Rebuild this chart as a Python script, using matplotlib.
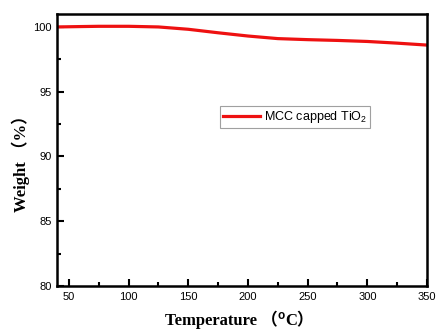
import numpy as np
import matplotlib
matplotlib.use("Agg")
import matplotlib.pyplot as plt
from matplotlib.ticker import MultipleLocator

# TGA curve
temperature = [40, 60, 75, 100, 125, 150, 175, 200, 225, 250, 275, 300, 325, 350]
weight = [100.0, 100.03, 100.05, 100.05, 100.0, 99.82, 99.55, 99.3, 99.1, 99.02, 98.96, 98.88, 98.75, 98.6]
series_label = "MCC capped TiO$_2$"

plt.rcParams['font.family'] = ['Liberation Sans', 'DejaVu Sans']
plt.rcParams['mathtext.fontset'] = 'custom'
plt.rcParams['mathtext.rm'] = 'Liberation Sans'

fig = plt.figure(figsize=(4.39, 3.31), dpi=100)
ax = fig.add_axes([57/439, 1 - 286/331, 370/439, 272/331])

ax.plot(temperature, weight, color='#ee1111', linewidth=2.3, label=series_label)

ax.set_xlim(40, 350)
ax.set_ylim(80, 101)
ax.xaxis.set_major_locator(MultipleLocator(50))
ax.xaxis.set_minor_locator(MultipleLocator(25))
ax.yaxis.set_major_locator(MultipleLocator(5))
ax.yaxis.set_minor_locator(MultipleLocator(2.5))
ax.tick_params(which='both', direction='in', labelsize=8, width=1.5, top=False, right=False)
ax.tick_params(which='major', length=5, pad=4)
ax.tick_params(which='minor', length=3)
for s in ax.spines.values():
    s.set_linewidth(1.8)

serif = ['Liberation Serif', 'Noto Sans CJK SC']
ax.set_ylabel('Weight （%）', fontsize=12, fontweight='bold', family=serif)
ax.yaxis.set_label_coords(-0.073, 0.465)

# x label in pieces: full-width brackets plus a raised "o"
big = dict(fontsize=12, fontweight='bold', family=serif, va='baseline', ha='left')
small = dict(fontsize=8.5, fontweight='bold', family=['Liberation Sans'], va='baseline', ha='left')
base_y = 6 / 331
pieces = [fig.text(0, base_y, 'Temperature （', **big),
          fig.text(0, base_y + 6 / 331, 'o', **small),
          fig.text(0, base_y, 'C）', **big)]
renderer = fig.canvas.get_renderer()
widths = [p.get_window_extent(renderer).width / fig.bbox.width for p in pieces]
x = 0.545 - sum(widths) / 2
for p, w in zip(pieces, widths):
    p.set_x(x)
    x += w

leg = ax.legend(loc='center left', bbox_to_anchor=(0.44, 0.62), fontsize=9,
                frameon=True, fancybox=False, borderpad=0.25, handlelength=3.0,
                handletextpad=0.3, borderaxespad=0)
leg.get_frame().set_edgecolor('#888888')
leg.get_frame().set_linewidth(0.8)

fig.savefig('out.png', dpi=100)
